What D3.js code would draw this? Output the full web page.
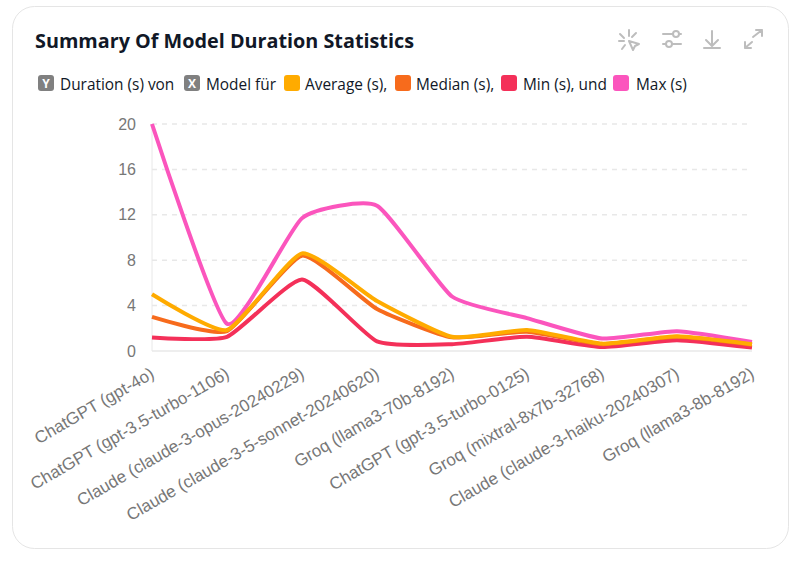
<!DOCTYPE html>
<html>
<head>
<meta charset="utf-8">
<script src="https://cdn.jsdelivr.net/npm/d3@7"></script>
<style>
  html, body { margin: 0; padding: 0; background: #fff; }
  svg { display: block; }
  .ui { font-family: "Open Sans", "Noto Sans", sans-serif; fill: #111827; }
  .ax { font-family: "Liberation Sans", Arial, sans-serif; fill: #777; }
</style>
</head>
<body>
<svg id="chart" width="802" height="564"></svg>
<script>
var models = [
  'ChatGPT (gpt-4o)',
  'ChatGPT (gpt-3.5-turbo-1106)',
  'Claude (claude-3-opus-20240229)',
  'Claude (claude-3-5-sonnet-20240620)',
  'Groq (llama3-70b-8192)',
  'ChatGPT (gpt-3.5-turbo-0125)',
  'Groq (mixtral-8x7b-32768)',
  'Claude (claude-3-haiku-20240307)',
  'Groq (llama3-8b-8192)'
];
var averageValues = [5, 1.85, 8.6, 4.4, 1.25, 1.85, 0.65, 1.3, 0.6];
var medianValues = [3, 1.75, 8.4, 3.7, 1.2, 1.7, 0.6, 1.25, 0.55];
var minValues = [1.2, 1.25, 6.3, 0.85, 0.6, 1.25, 0.35, 0.95, 0.3];
var maxValues = [20, 2.4, 11.7, 12.8, 4.8, 2.9, 1.1, 1.75, 0.8];
var yTicks = [0, 4, 8, 12, 16, 20];

var svg = d3.select('#chart');

// card
svg.append('rect')
  .attr('x', 12.5).attr('y', 6.5)
  .attr('width', 776).attr('height', 542)
  .attr('rx', 22)
  .attr('fill', '#fff').attr('stroke', '#e5e5e5');

svg.append('text').attr('class', 'ui')
  .attr('x', 35).attr('y', 48)
  .attr('font-size', 19.8).attr('font-weight', 700)
  .text('Summary Of Model Duration Statistics');

// legend line
function legendText(x, label) {
  svg.append('text').attr('class', 'ui')
    .attr('x', x).attr('y', 90)
    .attr('font-size', 15.4)
    .text(label);
}
function swatch(x, color, letter) {
  svg.append('rect')
    .attr('x', x).attr('y', 75)
    .attr('width', 16).attr('height', 16)
    .attr('rx', 3).attr('fill', color);
  if (letter) {
    svg.append('text')
      .attr('x', x + 8).attr('y', 87.5)
      .attr('text-anchor', 'middle')
      .attr('font-family', '"Open Sans", sans-serif')
      .attr('font-size', 12).attr('font-weight', 700)
      .attr('fill', '#fff')
      .text(letter);
  }
}
swatch(38, '#808080', 'Y');
legendText(60, 'Duration (s) von');
swatch(184, '#808080', 'X');
legendText(206, 'Model für');
swatch(284, '#ffab00');
legendText(305, 'Average (s),');
swatch(395, '#f76b1c');
legendText(416, 'Median (s),');
swatch(501, '#f43059');
legendText(523, 'Min (s), und');
swatch(613, '#fb55bd');
legendText(636, 'Max (s)');

// toolbar icons
var icons = svg.append('g')
  .attr('fill', 'none').attr('stroke', '#bdbdbd')
  .attr('stroke-width', 2).attr('stroke-linecap', 'round').attr('stroke-linejoin', 'round');
icons.append('path').attr('d', 'M629 30v6M620 34l4 4M619 41h5M622 49l3-4M636 33l-4 4M629 41l10 3-4 2-2 4z');
icons.append('path').attr('d', 'M663 34h10M679 34h2M663 44h3M672 44h9');
icons.append('circle').attr('cx', 676).attr('cy', 34).attr('r', 3);
icons.append('circle').attr('cx', 669).attr('cy', 44).attr('r', 3);
icons.append('path').attr('d', 'M712 31v14M706 40l6 6 6-6M704 48h16');
icons.append('path').attr('d', 'M753 37l9-7M756 30h6v6M745 48l7-6M745 42v6h6');

// scales
var x = d3.scalePoint().domain(models).range([152, 752]);
var y = d3.scaleLinear().domain([0, 20]).range([351, 124]);

// grid
svg.append('g').selectAll('line')
  .data(yTicks.filter(function(d) { return d > 0; }))
  .join('line')
  .attr('x1', 152).attr('x2', 752)
  .attr('y1', function(d) { return y(d); })
  .attr('y2', function(d) { return y(d); })
  .attr('stroke', '#e8e8e8').attr('stroke-width', 1.5)
  .attr('stroke-dasharray', '5 5');

svg.append('line')
  .attr('x1', 152).attr('x2', 152).attr('y1', 124).attr('y2', 351)
  .attr('stroke', '#e8e8e8');
svg.append('line')
  .attr('x1', 152).attr('x2', 752).attr('y1', 351).attr('y2', 351)
  .attr('stroke', '#e8e8e8').attr('stroke-width', 1.5);

// y axis
var yAxis = svg.append('g')
  .attr('transform', 'translate(152,0)')
  .call(d3.axisLeft(y).tickValues(yTicks).tickSize(0).tickPadding(16));
yAxis.select('.domain').remove();
yAxis.selectAll('text')
  .attr('class', 'ax')
  .attr('font-size', 16)
  .attr('fill', '#777');

// x axis
var xAxis = svg.append('g')
  .attr('transform', 'translate(0,351)')
  .call(d3.axisBottom(x).tickSize(0).tickPadding(0));
xAxis.select('.domain').remove();
xAxis.selectAll('text')
  .attr('class', 'ax')
  .attr('font-size', 17)
  .attr('fill', '#777')
  .attr('text-anchor', 'end')
  .attr('dy', 0)
  .attr('transform', 'translate(3,26) rotate(-30)');

// series
var line = d3.line()
  .x(function(d, i) { return x(models[i]); })
  .y(function(d) { return y(d); })
  .curve(d3.curveCardinal.tension(0.5));

var series = [
  { values: maxValues, color: '#fb55bd' },
  { values: minValues, color: '#f43059' },
  { values: medianValues, color: '#f76b1c' },
  { values: averageValues, color: '#ffab00' }
];
svg.append('g').selectAll('path')
  .data(series)
  .join('path')
  .attr('d', function(d) { return line(d.values); })
  .attr('fill', 'none')
  .attr('stroke', function(d) { return d.color; })
  .attr('stroke-width', 4)
  .attr('stroke-linejoin', 'round');
</script>
</body>
</html>
